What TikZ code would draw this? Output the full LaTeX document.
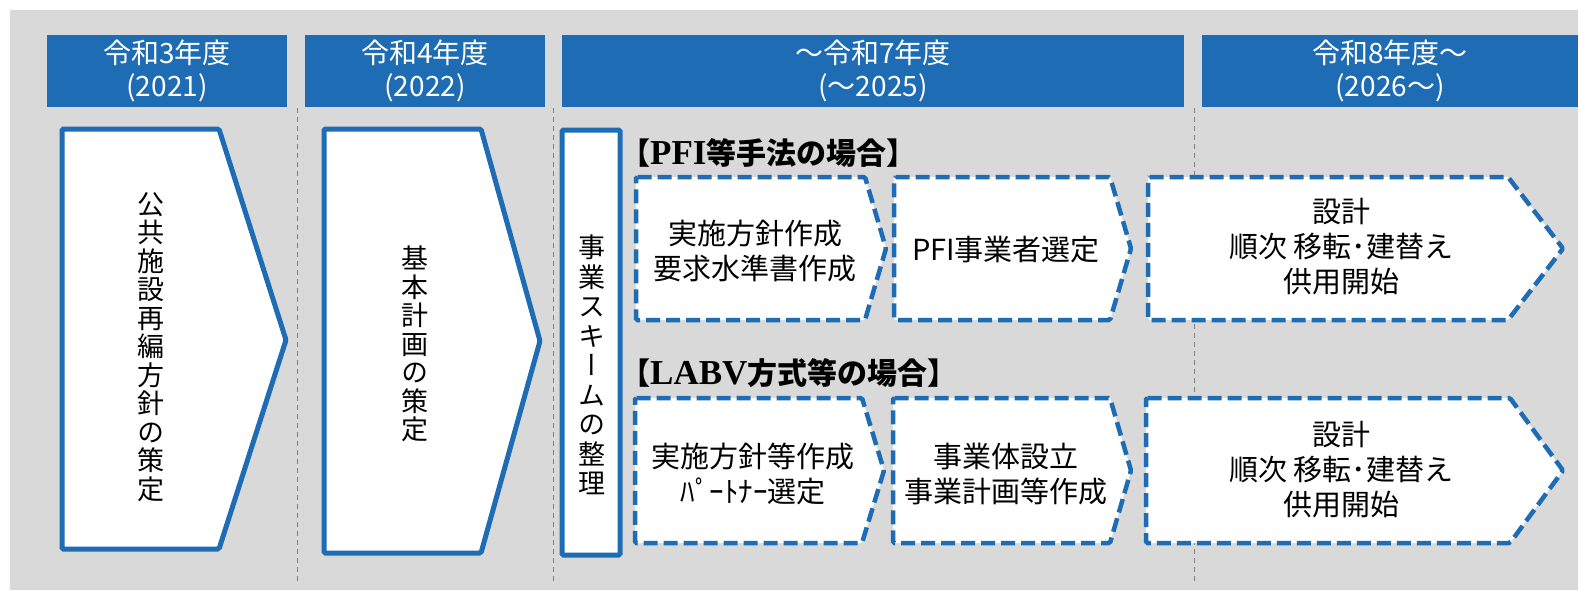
\documentclass[tikz,border=0pt]{standalone}
\usepackage{fontspec}
\usetikzlibrary{calc}
\newfontfamily\jp{Noto Sans CJK JP}
\newfontfamily\jpv[RawFeature=+vert]{Noto Sans CJK JP}
\newfontfamily\lser{Liberation Serif}
\definecolor{hblue}{RGB}{30,108,180}
\definecolor{bggray}{RGB}{217,217,217}
\definecolor{linegray}{RGB}{128,128,128}

\begin{document}
\begin{tikzpicture}[x=1pt,y=-1pt]
			\tikzstyle{hdr}=[fill=hblue,text=white,inner sep=0pt,align=center,minimum height=72pt,font=\jp\fontsize{28}{33}\selectfont];
			\tikzstyle{solidbox}=[fill=white,draw=hblue,line width=5pt,rounded corners=1.5pt];
			\tikzstyle{dashbox}=[fill=white,draw=hblue,line width=4.5pt,dash pattern=on 14pt off 6pt,rounded corners=1.5pt];
			\tikzstyle{txt}=[align=center,inner sep=0pt,font=\jp\fontsize{29}{35}\selectfont];
			\tikzstyle{vtxt}=[align=center,inner sep=0pt,font=\jpv\fontsize{27}{28.5}\selectfont];
			\tikzstyle{casetitle}=[anchor=west,inner sep=0pt,font=\jp\bfseries\fontsize{30}{34}\selectfont];
			\tikzstyle{yrline}=[draw=linegray,line width=1pt,dash pattern=on 5pt off 4pt];
			\useasboundingbox(0,0)rectangle(1578,590);
			\fill[white](0,0)rectangle(1578,590);
			\fill[bggray](10,10)rectangle(1578,590);
			% year headers
			\node[hdr,minimum width=240pt](y2021)at(167,71){令和3年度\\(2021)};
			\node[hdr,minimum width=240pt](y2022)at(425,71){令和4年度\\(2022)};
			\node[hdr,minimum width=622pt](y2025)at(873,71){～令和7年度\\(～2025)};
			\node[hdr,minimum width=376pt](y2026)at(1390,71){令和8年度～\\(2026～)};
			% year lines
			\coordinate(l1t)at(297,108);\coordinate(l1b)at(297,581);
			\coordinate(l2t)at(553,108);\coordinate(l2b)at(553,581);
			\coordinate(l3t)at(1194,108);\coordinate(l3b)at(1194,581);
			\draw[yrline](l1t)--(l1b);
			\draw[yrline](l2t)--(l2b);
			\draw[yrline](l3t)--(l3b);
			% solid arrows
			\draw[solidbox](62,129)--(219,129)--(286,340)--(219,549)--(62,549)--cycle;
			\draw[solidbox](324,129)--(481,129)--(540,341)--(481,553)--(324,553)--cycle;
			\draw[solidbox](562,130)rectangle(620,555);
			\node[vtxt](policy)at(151,347){公\\共\\施\\設\\再\\編\\方\\針\\の\\策\\定};
			\node[vtxt](basic)at(415,344){基\\本\\計\\画\\の\\策\\定};
			\node[vtxt,font=\jpv\fontsize{27}{29.5}\selectfont](scheme)at(592,365){事\\業\\ス\\キ\\ー\\ム\\の\\整\\理};
			% PFI
			\node[casetitle](pfititle)at(620,153){【{\lser\fontsize{35}{34}\selectfont PFI}等手法の場合】};
			\draw[dashbox](636,177)--(865,177)--(886,248.5)--(865,320)--(636,320)--cycle;
			\draw[dashbox](894,177)--(1110,177)--(1131,248.5)--(1110,320)--(894,320)--cycle;
			\draw[dashbox](1148,177)--(1508,177)--(1563,248.5)--(1508,320)--(1148,320)--cycle;
			\node[txt](pfi1)at(755,251){実施方針作成\\要求水準書作成};
			\node[txt](pfi2)at(1006,250){PFI事業者選定};
			\node[txt](pfi3)at(1341,247){設計\\順次 移転･建替え\\供用開始};
			% LABV
			\node[casetitle](labvtitle)at(620,373){【{\lser\fontsize{35}{34}\selectfont LABV}方式等の場合】};
			\draw[dashbox](635,398)--(862,398)--(884,470.5)--(862,543)--(635,543)--cycle;
			\draw[dashbox](893,398)--(1110,398)--(1131,470.5)--(1110,543)--(893,543)--cycle;
			\draw[dashbox](1146,398)--(1510,398)--(1563,470.5)--(1510,543)--(1146,543)--cycle;
			\node[txt](labv1)at(753,474){実施方針等作成\\ﾊﾟｰﾄﾅｰ選定};
			\node[txt](labv2)at(1006,474){事業体設立\\事業計画等作成};
			\node[txt](labv3)at(1341,470){設計\\順次 移転･建替え\\供用開始};
		\end{tikzpicture}
\end{document}
